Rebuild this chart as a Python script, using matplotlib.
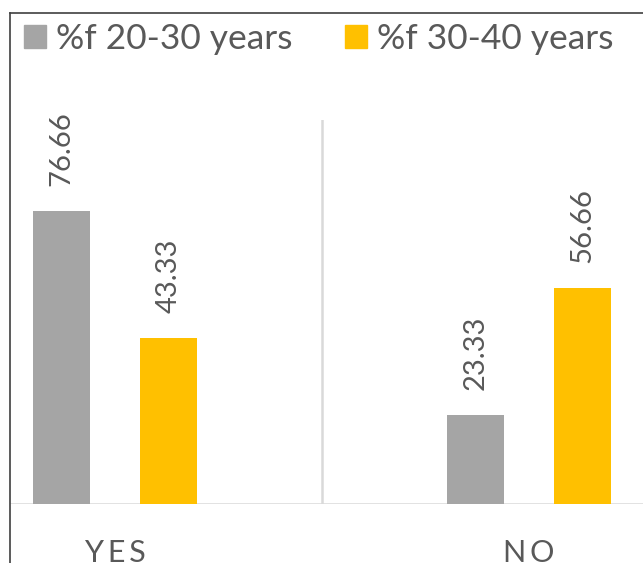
import matplotlib
matplotlib.use("Agg")
import matplotlib.pyplot as plt
from matplotlib.lines import Line2D
import numpy as np

plt.rcParams['font.family'] = ['Lato', 'DejaVu Sans']

categories = ["YES", "NO"]
series_names = ["%f 20-30 years", "%f 30-40 years"]
values_20_30 = [76.66, 23.33]
values_30_40 = [43.33, 56.66]
series_values = [values_20_30, values_30_40]
series_colors = ["#a5a5a5", "#ffc000"]

TEXT = "#595959"
GRID = "#d9d9d9"

W, H = 643, 563
fig = plt.figure(figsize=(W / 100, H / 100), dpi=100)

# plot area in pixel terms
left_px, right_px = 10, 643
base_px, top_px = 504, 120
ax = fig.add_axes([left_px / W, (H - base_px) / H,
                   (right_px - left_px) / W, (base_px - top_px) / H])

unit_px = 414.0           # distance between category centres
c0_px = 115.0             # centre of first category
ax.set_xlim((left_px - c0_px) / unit_px, (right_px - c0_px) / unit_px)
ax.set_ylim(0, 100.5)

x = np.arange(len(categories))
bar_w = 57 / unit_px
offsets = [-0.13, 0.13]
for vals, off, col in zip(series_values, offsets, series_colors):
    bars = ax.bar(x + off, vals, width=bar_w, color=col, zorder=3)
    for b, v in zip(bars, vals):
        ax.annotate(f"{v:.2f}", (b.get_x() + b.get_width() / 2, v),
                    xytext=(0, 18), textcoords="offset points",
                    rotation=90, ha="center", va="bottom",
                    fontsize=21, color=TEXT)

# baseline and category divider
ax.axhline(0, color=GRID, lw=1.8, zorder=2)
ax.axvline(0.5, color=GRID, lw=1.8, zorder=2)

for s in ax.spines.values():
    s.set_visible(False)
ax.set_yticks([])
ax.set_xticks(x)
# letter-spaced category names
ax.set_xticklabels(["\u2009".join(c) for c in categories], fontsize=22, color=TEXT)
ax.tick_params(axis="x", length=0, pad=25)

# outer chart frame
fig.add_artist(Line2D([10 / W, 10 / W], [0, (H - 13) / H],
                      transform=fig.transFigure, color="#404040", lw=1.2))
fig.add_artist(Line2D([10 / W, 1], [(H - 13) / H, (H - 13) / H],
                      transform=fig.transFigure, color="#404040", lw=1.2))

handles = [plt.Rectangle((0, 0), 1, 1, color=c) for c in series_colors]
fs = 25.5
leg = fig.legend(handles, series_names, loc="upper left",
                 bbox_to_anchor=(24 / W, (H - 23) / H), ncol=2,
                 frameon=False, fontsize=fs, borderpad=0, borderaxespad=0,
                 handlelength=0.62, handleheight=0.62, handletextpad=0.28,
                 columnspacing=1.5, labelcolor=TEXT)

fig.savefig("out.png", dpi=100)
